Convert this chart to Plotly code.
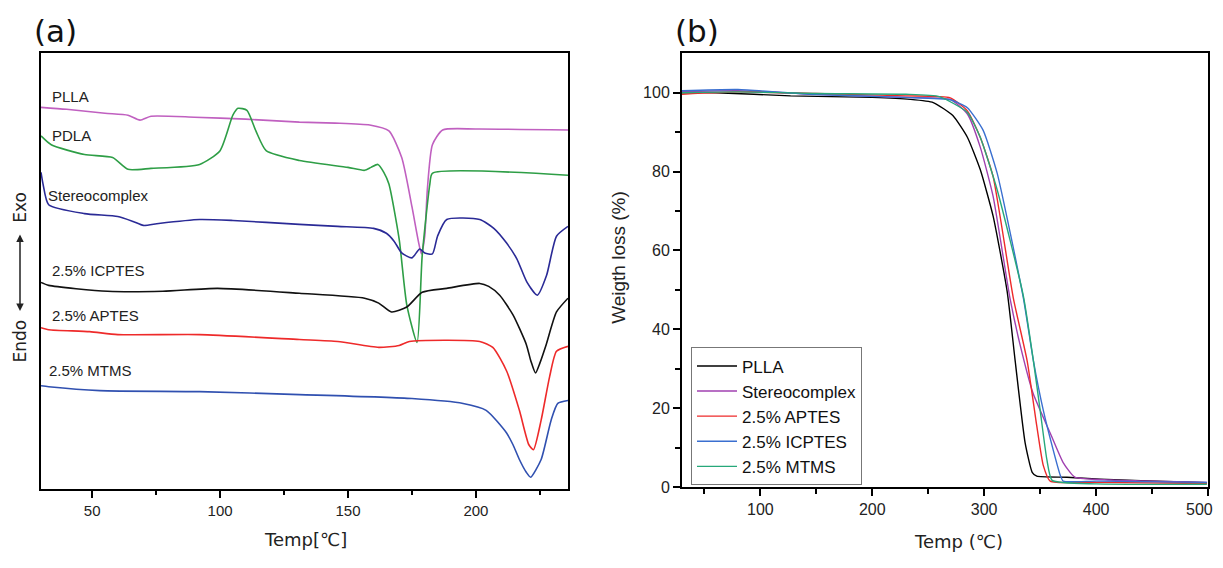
import plotly.graph_objects as go

# ---- (a) DSC curves, heat flow in arbitrary units ----
plla_t = [30, 40, 55, 64, 68.7, 73, 90, 110, 131, 145, 158.5, 166, 171, 175, 177.5, 178.7, 180, 181, 183, 187, 200, 236]
plla_h = [388, 386, 382, 380, 375, 379, 378, 376, 373, 372, 370, 364, 337, 287, 252, 239, 257, 304, 350, 365, 366, 365]

pdla_t = [30, 34, 47, 58, 64, 73, 92, 100, 105, 107, 110.5, 114, 118, 131, 150, 156.5, 159, 161.7, 164, 166, 170, 173, 177, 179, 182, 183, 236]
pdla_h = [359, 350, 340, 337, 325, 326, 330, 344, 380, 387, 385, 364, 344, 334, 327, 324, 327, 330, 322, 310, 254, 187, 149, 237, 310, 321, 319]

sc_t = [30, 30.8, 33, 47, 60, 66, 70, 76, 92, 105, 131, 146, 160, 165, 168, 171, 175, 178, 180, 183, 185, 188.6, 201.5, 207, 212, 216, 220, 224, 227.6, 231.5, 236]
sc_h = [322, 310, 289, 280, 277, 272, 268, 270, 274, 273, 269, 267, 265, 260, 252, 240, 235, 244, 240, 239, 257, 274, 274, 265, 250, 234, 210, 197, 217, 257, 267]

icp_t = [30, 33, 56, 77.6, 99, 131, 156.5, 162, 167, 173, 179, 188.6, 201.5, 205, 209.3, 214.5, 219.7, 221.5, 223.3, 225, 227.5, 231.5, 236]
icp_h = [210, 207, 201, 201, 204, 199, 194, 189, 180, 185, 200, 204, 209, 206, 197, 177, 147, 130, 118, 128, 147, 180, 194]

apt_t = [30, 33, 49, 60, 92, 131, 146, 162, 170, 174, 201.5, 206.6, 212, 217, 220.7, 222.5, 225.5, 228.8, 231.5, 236]
apt_h = [164, 162, 160, 157, 157, 152, 150, 144, 146, 150, 150, 144, 120, 80, 45, 40, 70, 114, 140, 145]

mtm_t = [30, 33, 53, 92, 131, 175, 195, 204, 212, 214.5, 217, 219.7, 221.4, 225.5, 229.4, 232, 236]
mtm_h = [105, 104, 100, 99, 96, 92, 87, 80, 57, 45, 30, 17, 12, 30, 70, 87, 90]

dsc_names = ["PLLA", "PDLA", "Stereocomplex", "2.5% ICPTES", "2.5% APTES", "2.5% MTMS"]
dsc_colors = ["#c060c0", "#2e9e46", "#2a2a96", "#111111", "#ee2a2a", "#3050b0"]
dsc_data = [(plla_t, plla_h), (pdla_t, pdla_h), (sc_t, sc_h), (icp_t, icp_h), (apt_t, apt_h), (mtm_t, mtm_h)]
# label positions (T, h) for the text next to each curve
dsc_label_pos = [(33.5, 399), (33.5, 359), (32, 298), (33.5, 222), (33.5, 176), (32.5, 120)]

# ---- (b) TGA curves ----
tga_names = ["PLLA", "Stereocomplex", "2.5% APTES", "2.5% ICPTES", "2.5% MTMS"]
tga_colors = ["#000000", "#a040b0", "#ee2a2a", "#3a6fd0", "#26a87a"]

t_plla = [30, 60, 127, 200, 234, 254.5, 272, 285, 296.5, 308, 320.6, 327.7, 336.6, 342.9, 347, 374, 403.6, 440, 499]
w_plla = [100, 100, 99.2, 98.8, 98.3, 97.5, 94.2, 88.7, 80.5, 68.7, 49.5, 32, 11.2, 3.75, 2.75, 2.5, 2, 1.6, 1.1]

t_sc = [30, 80, 150, 230, 269.7, 285, 296.5, 308, 323, 332, 343.8, 359, 370.6, 381, 413, 499]
w_sc = [100.3, 100.5, 99.6, 98.8, 98.3, 94.6, 86.2, 73.7, 48, 36.2, 23.7, 13.7, 6.2, 2.5, 1.8, 1.2]

t_apt = [30, 80, 150, 230, 269.7, 285, 296.5, 308, 326, 338.4, 347, 352.8, 359, 400, 499]
w_apt = [99.6, 100.2, 99.8, 99.2, 98.7, 95.4, 88.7, 78.7, 48, 32, 15.5, 5.5, 1.5, 1.2, 0.9]

t_icp = [30, 80, 150, 230, 269.7, 285, 299, 311.6, 335, 344, 352.8, 361.6, 368, 370.6, 400, 499]
w_icp = [100.5, 100.8, 99.5, 98.8, 98.2, 96.2, 90.5, 79.6, 48, 32, 19.5, 9.5, 3, 1.5, 1.5, 1.2]

t_mtm = [30, 80, 150, 230, 260, 285, 296.5, 311.6, 335, 344, 350, 356, 360.7, 400, 499]
w_mtm = [100, 100.2, 99.8, 99.6, 99, 95, 88.7, 75.4, 48.5, 32, 19.5, 7, 1.7, 0.8, 0.7]

tga_data = [(t_plla, w_plla), (t_sc, w_sc), (t_apt, w_apt), (t_icp, w_icp), (t_mtm, w_mtm)]
tga_ticks = [100, 200, 300, 400, 500]

# page body has an 8px margin, so the figure is made 16px smaller
W, H = 1223 - 16, 568 - 16


def px(x):
    return (x - 8) / W


def py(y):
    return 1 - (y - 8) / H


fig = go.Figure()

for name, col, (t, h) in zip(dsc_names, dsc_colors, dsc_data):
    fig.add_trace(go.Scatter(x=t, y=h, mode="lines", name=name, showlegend=False,
                             line=dict(color=col, width=1.6, shape="spline", smoothing=0.6),
                             xaxis="x", yaxis="y"))

for name, col, (t, w) in zip(tga_names, tga_colors, tga_data):
    fig.add_trace(go.Scatter(x=t, y=w, mode="lines", name=name,
                             line=dict(color=col, width=1.4, shape="spline", smoothing=0.5),
                             xaxis="x2", yaxis="y2"))

common = dict(showline=True, linecolor="black", linewidth=2, mirror=True,
              showgrid=False, zeroline=False, ticks="outside", tickcolor="black",
              tickwidth=2, ticklen=7)
font_a = dict(family="Liberation Sans, Arial", size=15, color="#222")
font_b = dict(family="Liberation Sans, Arial", size=16, color="#222")

fig.update_layout(
    width=W, height=H,
    margin=dict(l=0, r=0, t=0, b=0),
    plot_bgcolor="white", paper_bgcolor="white",
    xaxis=dict(domain=[px(41), px(568)], range=[30, 236], tickvals=[50, 100, 150, 200],
               minor=dict(tickvals=[75, 125, 175, 225], ticks="outside", ticklen=4,
                          tickwidth=2, tickcolor="black"),
               anchor="y", tickfont=font_a, **common),
    yaxis=dict(domain=[py(497), py(54)], range=[0, 443], showticklabels=False,
               anchor="x", **{**common, "ticks": ""}),
    xaxis2=dict(domain=[px(682), px(1208)], range=[30, 500], tickvals=tga_ticks,
                # last label is drawn as an annotation so it is not cut at the page edge
                ticktext=[str(v) for v in tga_ticks[:-1]] + [""],
                minor=dict(tickvals=[50, 150, 250, 350, 450], ticks="outside", ticklen=5,
                           tickwidth=2, tickcolor="black"),
                anchor="y2", tickfont=font_b, **common),
    yaxis2=dict(domain=[py(495), py(54)], range=[0, 110], tickvals=[0, 20, 40, 60, 80, 100],
                minor=dict(tickvals=[10, 30, 50, 70, 90], ticks="outside", ticklen=5,
                           tickwidth=2, tickcolor="black"),
                anchor="x2", tickfont=font_b, **common),
    legend=dict(x=px(691), y=py(353), xanchor="left", yanchor="top",
                bgcolor="white", bordercolor="#777", borderwidth=1,
                font=dict(family="Liberation Sans, Arial", size=17, color="#111"),
                tracegroupgap=0, itemwidth=40),
)

ann = []
for name, (tx, hy) in zip(dsc_names, dsc_label_pos):
    ann.append(dict(x=tx, y=hy, xref="x", yref="y", text=name, showarrow=False,
                    xanchor="left", yanchor="middle", font=font_a))


def note(x, y, text, font, angle=0, xanchor="center"):
    ann.append(dict(x=px(x), y=py(y), xref="paper", yref="paper", text=text, showarrow=False,
                    xanchor=xanchor, yanchor="middle", textangle=angle, font=font))


big = dict(family="DejaVu Sans", size=31, color="#111")
note(55, 31, "(a)", big)
note(697, 31, "(b)", big)

side = dict(family="DejaVu Sans", size=17, color="#222")
note(20, 211, "Exo", side, angle=-90)
note(20, 347, "Endo", side, angle=-90)
ann.append(dict(x=px(20), y=py(316), xref="paper", yref="paper", text="", showarrow=True,
                ax=0, ay=-78, arrowside="end+start", arrowhead=2, arrowsize=1, arrowwidth=1.5,
                arrowcolor="#222"))

title_font = dict(family="DejaVu Sans", size=18, color="#222")
note(305, 548, "Temp[℃]", title_font)
note(958, 550, "Temp (℃)", title_font)
note(619, 262, "Weigth loss (%)",
     dict(family="Liberation Sans, Arial", size=19, color="#222"), angle=-90)
note(1215, 518, "500", font_b, xanchor="right")

fig.update_layout(annotations=ann)

fig.write_html("out.html")
